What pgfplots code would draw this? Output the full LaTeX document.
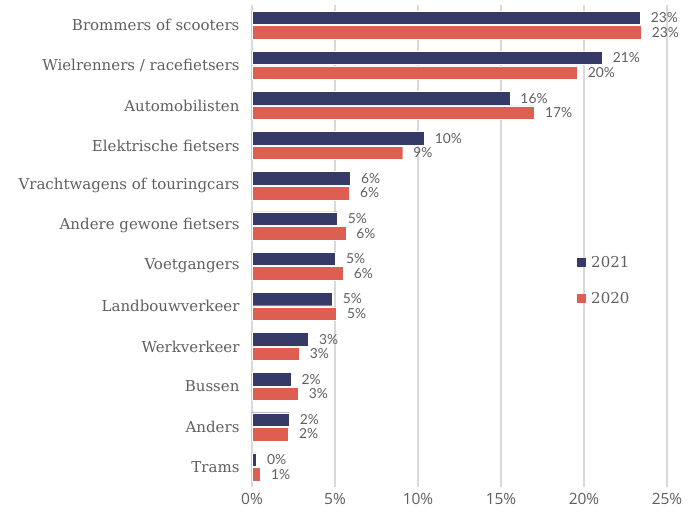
\documentclass[border=0pt]{standalone}
\usepackage{pgfplots}
\pgfplotsset{compat=1.18}
\usepackage{fontspec}
\setmainfont{DejaVu Serif}
\newfontfamily\valfont{Lato}
\newfontfamily\tickfont{Open Sans}
\definecolor{navy}{HTML}{363A66}
\definecolor{coral}{HTML}{DF5E52}
\definecolor{txt}{HTML}{5F5F5F}
\definecolor{gridc}{HTML}{D9D9D9}
\begin{document}
\begin{tikzpicture}
\begin{axis}[
  scale only axis,
  width=415pt, height=482pt,
  xmin=0, xmax=25,
  ymin=-0.5, ymax=11.5,
  xbar, bar width=13.5pt,
  axis line style={draw=none},
  clip=false,
  xtick={0,5,10,15,20,25},
  xticklabels={0\%,5\%,10\%,15\%,20\%,25\%},
  xmajorgrids, major grid style={gridc, line width=1.2pt},
  major tick length=0pt,
  xticklabel style={font=\tickfont\fontsize{15.5}{17}\selectfont, text=txt, yshift=-3pt},
  ytick={0,...,11},
  yticklabels={Trams,Anders,Bussen,Werkverkeer,Landbouwverkeer,Voetgangers,Andere gewone fietsers,Vrachtwagens of touringcars,Elektrische fietsers,Automobilisten,Wielrenners / racefietsers,Brommers of scooters},
  yticklabel style={font=\fontsize{15}{17}\selectfont, text=txt, xshift=-9pt},
  /pgf/number format/assume math mode=true,
  nodes near coords={\pgfmathprintnumber[fixed,precision=0,assume math mode=true]{\pgfplotspointmeta}\%},
  nodes near coords style={font=\valfont\fontsize{13.8}{15}\selectfont, text=txt, anchor=west, xshift=7pt},
  point meta=explicit,
  legend style={draw=none, fill=none, at={(0.776,0.487)}, anchor=north west,
    font=\fontsize{15}{17}\selectfont, text=txt, row sep=19pt,
    legend cell align=left},
  legend image code/.code={\fill[#1, draw=none] (0pt,-4.5pt) rectangle (8.5pt,4.5pt);
    \path[draw=none, fill=none] (0pt,0pt) -- (12pt,0pt);},
]
\addplot[fill=navy, draw=white, line width=0.4pt, bar shift=7.3pt] coordinates {
  (0.28,0) [0.28]
  (2.25,1) [2.25]
  (2.35,2) [2.35]
  (3.41,3) [3.41]
  (4.84,4) [4.84]
  (5.04,5) [5.04]
  (5.14,6) [5.14]
  (5.94,7) [5.94]
  (10.38,8) [10.38]
  (15.54,9) [15.54]
  (21.1,10) [21.1]
  (23.4,11) [23.4]
};
\addplot[fill=coral, draw=white, line width=0.4pt, bar shift=-7.3pt] coordinates {
  (0.52,0) [0.52]
  (2.2,1) [2.2]
  (2.79,2) [2.79]
  (2.85,3) [2.85]
  (5.1,4) [5.1]
  (5.5,5) [5.5]
  (5.65,6) [5.65]
  (5.88,7) [5.88]
  (9.08,8) [9.08]
  (17.03,9) [17.03]
  (19.6,10) [19.6]
  (23.45,11) [23.45]
};
\legend{2021,2020}
\end{axis}
\pgfresetboundingbox
\path (-252pt,-30pt) rectangle (446pt,487pt);
\end{tikzpicture}
\end{document}
